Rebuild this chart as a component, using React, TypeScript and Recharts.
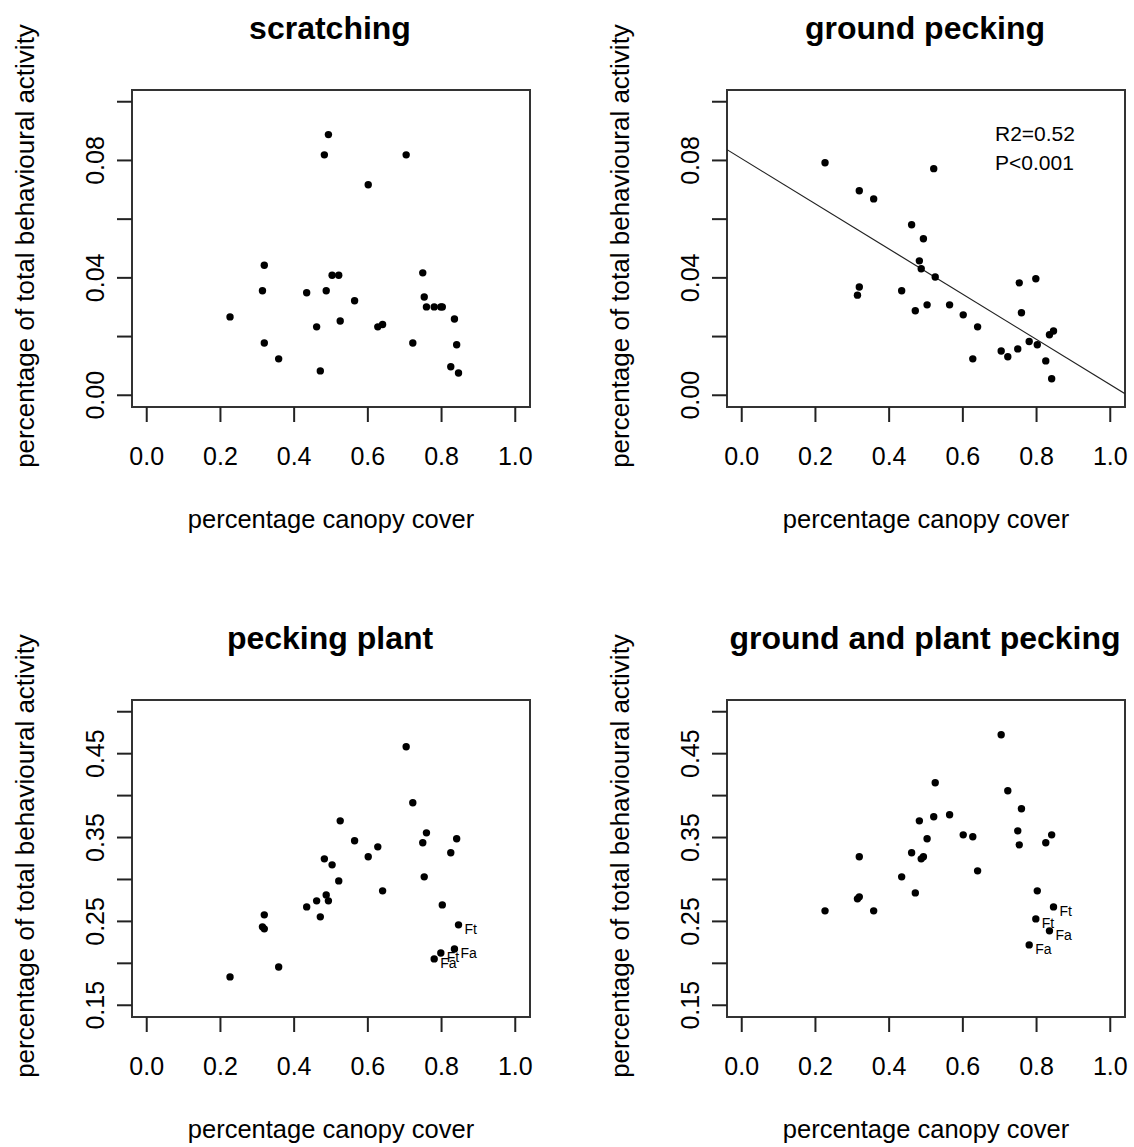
import React from 'react'
import { ScatterChart, Scatter, XAxis, YAxis, ReferenceArea, ReferenceLine } from 'recharts'

// canopy cover per site (same sites in every panel)
const canopy = [
  0.226, 0.314, 0.319, 0.319, 0.358, 0.434, 0.461, 0.471, 0.482, 0.487,
  0.493, 0.503, 0.521, 0.525, 0.564, 0.601, 0.627, 0.64, 0.704, 0.722,
  0.749, 0.753, 0.759, 0.78, 0.798, 0.802, 0.825, 0.835, 0.841, 0.846,
]

const scratching = [
  0.0267, 0.0356, 0.0443, 0.0178, 0.0124, 0.0349, 0.0233, 0.0083, 0.0819, 0.0356,
  0.0888, 0.0409, 0.0409, 0.0253, 0.0322, 0.0717, 0.0233, 0.0241, 0.0819, 0.0178,
  0.0417, 0.0335, 0.0301, 0.0301, 0.0301, 0.0301, 0.0097, 0.026, 0.0172, 0.0076,
]

const groundPecking = [
  0.0792, 0.0341, 0.0697, 0.0369, 0.0669, 0.0356, 0.0581, 0.0288, 0.0458, 0.0431,
  0.0533, 0.0308, 0.0772, 0.0403, 0.0308, 0.0274, 0.0124, 0.0233, 0.0151, 0.0131,
  0.0158, 0.0383, 0.0281, 0.0183, 0.0397, 0.0172, 0.0117, 0.0206, 0.0056, 0.0219,
]

const peckingPlant = [
  0.1838, 0.2435, 0.2578, 0.2411, 0.1957, 0.2673, 0.2745, 0.2554, 0.3246, 0.2816,
  0.2745, 0.3174, 0.2983, 0.3699, 0.3461, 0.327, 0.3389, 0.2864, 0.4582, 0.3914,
  0.3437, 0.3031, 0.3556, 0.2053, 0.2124, 0.2697, 0.3318, 0.2172, 0.3485, 0.2459,
]

const groundAndPlant = [
  0.2626, 0.2769, 0.327, 0.2793, 0.2626, 0.3031, 0.3318, 0.284, 0.3699, 0.3246,
  0.327, 0.3485, 0.3747, 0.4153, 0.3771, 0.3532, 0.3509, 0.3103, 0.4726, 0.4057,
  0.358, 0.3413, 0.3843, 0.222, 0.253, 0.2864, 0.3437, 0.2387, 0.3532, 0.2673,
]

const siteLabels = [
  '', '', '', '', '', '', '', '', '', '',
  '', '', '', '', '', '', '', '', '', '',
  '', '', '', 'Fa', 'Ft', '', '', 'Fa', '', 'Ft',
]

const xTicks = [0, 0.2, 0.4, 0.6, 0.8, 1.0]
const smallTicks = [0, 0.02, 0.04, 0.06, 0.08, 0.1]
const smallLabels = [0, 0.04, 0.08]
const bigTicks = [0.15, 0.2, 0.25, 0.3, 0.35, 0.4, 0.45, 0.5]
const bigLabels = [0.15, 0.25, 0.35, 0.45]

// lm fit for ground pecking
const fit = { intercept: 0.0806, slope: -0.077 }

const FONT = '"Liberation Sans", Arial, sans-serif'
const X_DOMAIN: [number, number] = [-0.04, 1.04]
const SMALL_DOMAIN: [number, number] = [-0.004, 0.104]
const BIG_DOMAIN: [number, number] = [0.136, 0.514]

const XTick = (props: any) => {
  const { x, y, payload } = props
  return (
    <text x={x} y={y + 43} textAnchor="middle" fontSize={25} fontFamily={FONT} fill="#000">
      {payload.value.toFixed(1)}
    </text>
  )
}

const makeYTick = (labels: number[]) => (props: any) => {
  const { x, y, payload } = props
  if (!labels.some((v) => Math.abs(v - payload.value) < 1e-9)) return <g />
  const bx = x - 13
  return (
    <text
      x={bx}
      y={y}
      transform={`rotate(-90 ${bx} ${y})`}
      textAnchor="middle"
      fontSize={25}
      fontFamily={FONT}
      fill="#000"
    >
      {payload.value.toFixed(2)}
    </text>
  )
}

const DotShape = (props: any) => {
  const { cx, cy, payload } = props
  return (
    <g>
      <circle cx={cx} cy={cy} r={3.7} fill="#000" />
      {payload.label ? (
        <text x={cx + 6} y={cy + 9} fontSize={14} fontFamily={FONT} fill="#000">
          {payload.label}
        </text>
      ) : null}
    </g>
  )
}

interface PanelProps {
  left: number
  top: number
  width: number
  height: number
  values: number[]
  yDomain: [number, number]
  yTicks: number[]
  yLabels: number[]
  showLabels?: boolean
  showFit?: boolean
}

function Panel({ left, top, width, height, values, yDomain, yTicks, yLabels, showLabels, showFit }: PanelProps) {
  const data = canopy.map((x, i) => ({ x, y: values[i], label: showLabels ? siteLabels[i] : '' }))
  const boxLeft = 132
  const boxTop = 90
  const boxW = 398
  const boxH = 317
  return (
    <div style={{ position: 'absolute', left, top }}>
      <ScatterChart
        width={width}
        height={height}
        margin={{ top: boxTop, left: 0, right: width - boxLeft - boxW, bottom: 0 }}
      >
        <XAxis
          type="number"
          dataKey="x"
          domain={X_DOMAIN}
          ticks={xTicks}
          allowDataOverflow
          axisLine={false}
          tickSize={15}
          tickMargin={0}
          tickLine={{ stroke: '#222', strokeWidth: 2 }}
          tick={<XTick />}
          height={height - boxTop - boxH}
          interval={0}
        />
        <YAxis
          type="number"
          dataKey="y"
          domain={yDomain}
          ticks={yTicks}
          allowDataOverflow
          axisLine={false}
          tickSize={15}
          tickMargin={0}
          tickLine={{ stroke: '#222', strokeWidth: 2 }}
          tick={makeYTick(yLabels)}
          width={boxLeft}
          interval={0}
        />
        <ReferenceArea
          x1={X_DOMAIN[0]}
          x2={X_DOMAIN[1]}
          y1={yDomain[0]}
          y2={yDomain[1]}
          fill="#fff"
          fillOpacity={0}
          stroke="#333"
          strokeWidth={2}
          ifOverflow="visible"
        />
        {showFit ? (
          <ReferenceLine
            segment={[
              { x: X_DOMAIN[0], y: fit.intercept + fit.slope * X_DOMAIN[0] },
              { x: X_DOMAIN[1], y: fit.intercept + fit.slope * X_DOMAIN[1] },
            ]}
            stroke="#222"
            strokeWidth={1.2}
            ifOverflow="hidden"
          />
        ) : null}
        <Scatter data={data} shape={<DotShape />} isAnimationActive={false} />
      </ScatterChart>
    </div>
  )
}

const textBase: React.CSSProperties = {
  position: 'absolute',
  fontFamily: FONT,
  color: '#000',
  whiteSpace: 'nowrap',
  lineHeight: 1,
}

function Title({ x, y, text }: { x: number; y: number; text: string }) {
  return (
    <div style={{ ...textBase, left: x, top: y, transform: 'translate(-50%, -50%)', fontSize: 32, fontWeight: 'bold' }}>
      {text}
    </div>
  )
}

function XTitle({ x, y }: { x: number; y: number }) {
  return (
    <div style={{ ...textBase, left: x, top: y, transform: 'translate(-50%, -50%)', fontSize: 25.5 }}>
      percentage canopy cover
    </div>
  )
}

function YTitle({ x, y }: { x: number; y: number }) {
  return (
    <div
      style={{ ...textBase, left: x, top: y, transform: 'translate(-50%, -50%) rotate(-90deg)', fontSize: 26 }}
    >
      percentage of total behavioural activity
    </div>
  )
}

export default function App() {
  return (
    <div
      style={{
        position: 'absolute',
        left: 0,
        top: 0,
        width: 1134,
        height: 1147,
        overflow: 'hidden',
        background: '#fff',
      }}
    >
      <Panel left={0} top={0} width={567} height={573} values={scratching} yDomain={SMALL_DOMAIN} yTicks={smallTicks} yLabels={smallLabels} />
      <Panel left={595} top={0} width={539} height={573} values={groundPecking} yDomain={SMALL_DOMAIN} yTicks={smallTicks} yLabels={smallLabels} showFit />
      <Panel left={0} top={610} width={567} height={537} values={peckingPlant} yDomain={BIG_DOMAIN} yTicks={bigTicks} yLabels={bigLabels} showLabels />
      <Panel left={595} top={610} width={539} height={537} values={groundAndPlant} yDomain={BIG_DOMAIN} yTicks={bigTicks} yLabels={bigLabels} showLabels />

      <Title x={330} y={28} text="scratching" />
      <Title x={925} y={28} text="ground pecking" />
      <Title x={330} y={638} text="pecking plant" />
      <Title x={925} y={638} text="ground and plant pecking" />

      <XTitle x={331} y={520} />
      <XTitle x={926} y={520} />
      <XTitle x={331} y={1130} />
      <XTitle x={926} y={1130} />

      <YTitle x={25} y={246} />
      <YTitle x={620} y={246} />
      <YTitle x={25} y={856} />
      <YTitle x={620} y={856} />

      <div style={{ ...textBase, left: 995, top: 133, transform: 'translateY(-50%)', fontSize: 21 }}>R2=0.52</div>
      <div style={{ ...textBase, left: 995, top: 162, transform: 'translateY(-50%)', fontSize: 21 }}>P&lt;0.001</div>
    </div>
  )
}
